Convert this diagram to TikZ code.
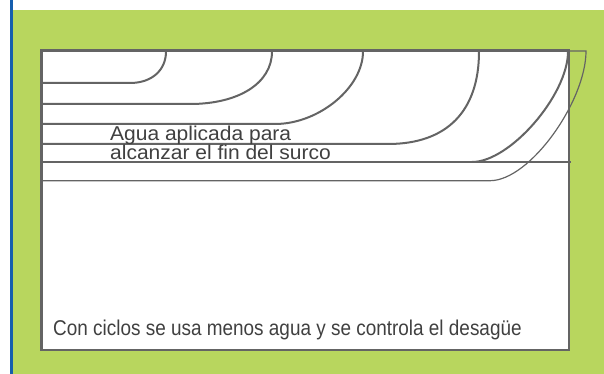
\documentclass[tikz,border=0pt]{standalone}
\usepackage{fontspec}
\setmainfont{Liberation Sans}
\newfontfamily\topfont[FakeStretch=1.05]{Liberation Sans}
\newfontfamily\botfont[FakeStretch=0.885]{Liberation Sans}
\definecolor{bggreen}{RGB}{184,214,94}
\definecolor{edgeblue}{RGB}{22,94,174}
\definecolor{linegray}{RGB}{100,100,100}
\definecolor{textgray}{RGB}{64,64,64}
\begin{document}
\begin{tikzpicture}[x=1pt,y=-1pt,
  furrow/.style={draw=linegray,line width=2pt},
  thinfurrow/.style={draw=linegray,line width=1.2pt},
  frame/.style={draw=linegray,line width=2.5pt,fill=white},
  toplabel/.style={inner sep=0pt,anchor=base west,text=textgray,font=\topfont\fontsize{20}{24}\selectfont},
  botlabel/.style={inner sep=0pt,anchor=base west,text=textgray,font=\botfont\fontsize{21.4}{25}\selectfont}]
\useasboundingbox (0,0) rectangle (604,374);
\fill[white] (0,0) rectangle (604,374);
\fill[bggreen] (13,10) rectangle (604,374);
\fill[edgeblue] (10,0) rectangle (13,374);
% main box
\draw[frame] (41.5,50.5) rectangle (569,350);
% furrow lines
\draw[furrow] (41.5,83) -- (130,83) .. controls (152,83) and (166,70) .. (166,51.5);
\draw[furrow] (41.5,104) -- (190,104) .. controls (239,104) and (272,83) .. (272,51.5);
\draw[furrow] (41.5,124) -- (275,124) .. controls (319,124) and (363,87.5) .. (363,51.5);
\draw[furrow] (41.5,144) -- (388,144) .. controls (447,144) and (479,111) .. (479,51.5);
\draw[furrow] (41.5,162) -- (571,162);
\draw[furrow] (472,162) .. controls (510,162) and (568,95) .. (568,51.5);
\draw[thinfurrow] (41.5,180.7) -- (490,180.7) .. controls (530,180.7) and (586,101) .. (586,51) -- (569,51);
% labels
\node[toplabel] (t1) at (110,141) {Agua aplicada para};
\node[toplabel] (t2) at (110,160) {alcanzar el fin del surco};
\node[botlabel] (b1) at (53,335) {Con ciclos se usa menos agua y se controla el desagüe};
\end{tikzpicture}
\end{document}
